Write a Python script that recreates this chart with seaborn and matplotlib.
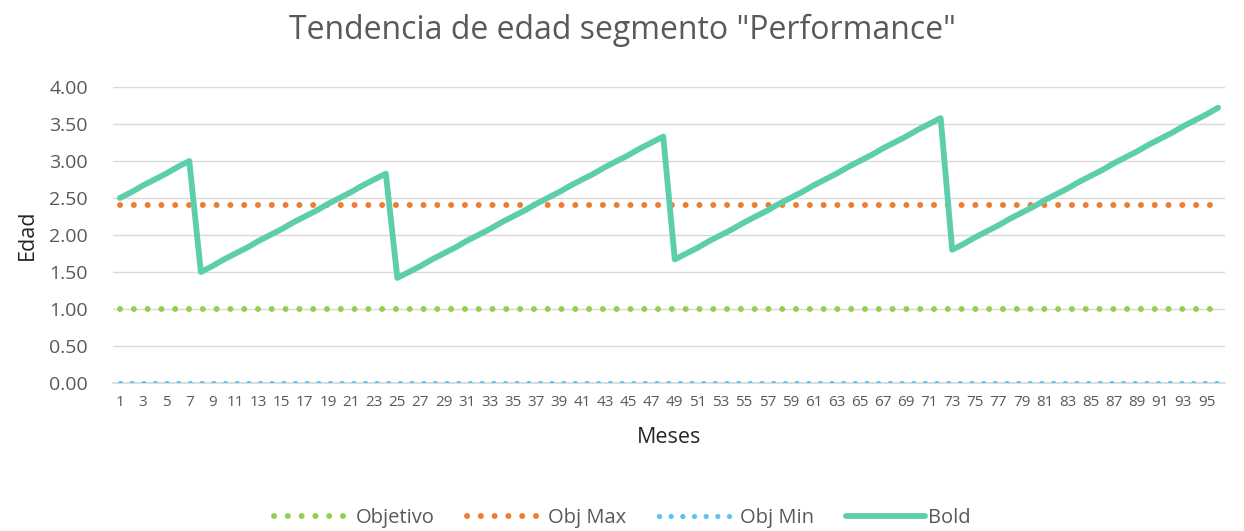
import matplotlib
matplotlib.use("Agg")
import matplotlib.pyplot as plt
import seaborn as sns
import pandas as pd
from matplotlib.lines import Line2D

# Monthly series
meses = list(range(1, 97))
bold = [
    2.50, 2.58, 2.67, 2.75, 2.83, 2.92, 3.00,
    1.50, 1.58, 1.67, 1.75, 1.83, 1.92, 2.00, 2.08, 2.17, 2.25, 2.33, 2.42,
    2.50, 2.58, 2.67, 2.75, 2.83,
    1.42, 1.50, 1.58, 1.67, 1.75, 1.83, 1.92, 2.00, 2.08, 2.17, 2.25, 2.33,
    2.42, 2.50, 2.58, 2.67, 2.75, 2.83, 2.92, 3.00, 3.08, 3.17, 3.25, 3.33,
    1.67, 1.75, 1.83, 1.92, 2.00, 2.08, 2.17, 2.25, 2.33, 2.42, 2.50, 2.58,
    2.67, 2.75, 2.83, 2.92, 3.00, 3.08, 3.17, 3.25, 3.33, 3.42, 3.50, 3.58,
    1.80, 1.88, 1.97, 2.05, 2.13, 2.22, 2.30, 2.38, 2.47, 2.55, 2.63, 2.72,
    2.80, 2.88, 2.97, 3.05, 3.13, 3.22, 3.30, 3.38, 3.47, 3.55, 3.63, 3.72,
]
objetivo = [1.0] * 96
obj_max = [2.4] * 96
obj_min = [0.0] * 96

series_names = ["Objetivo", "Obj Max", "Obj Min", "Bold"]
colors = {"Objetivo": "#92D050", "Obj Max": "#ED7D31",
          "Obj Min": "#5BC5F2", "Bold": "#5CCEAB"}

sns.set_theme(style="white")
plt.rcParams["font.family"] = ["Open Sans", "DejaVu Sans"]

df = pd.DataFrame({"Mes": meses, "Objetivo": objetivo, "Obj Max": obj_max,
                   "Obj Min": obj_min, "Bold": bold})

fig = plt.figure(figsize=(12.44, 5.31), dpi=100)
ax = fig.add_axes([113 / 1244, 1 - 383 / 531, (1225 - 113) / 1244, (383 - 87) / 531])

dot_styles = {
    "Objetivo": dict(lw=4.3, ls=(0, (0.01, 2.3))),
    "Obj Max": dict(lw=4.3, ls=(0, (0.01, 2.3))),
    "Obj Min": dict(lw=3.8, ls=(0, (0.01, 2.2))),
}
for name, st in dot_styles.items():
    sns.lineplot(data=df, x="Mes", y=name, ax=ax, color=colors[name],
                 linewidth=st["lw"], linestyle=st["ls"],
                 dash_capstyle="round", zorder=3)
sns.lineplot(data=df, x="Mes", y="Bold", ax=ax, color=colors["Bold"],
             linewidth=4.2, solid_capstyle="round", solid_joinstyle="round",
             zorder=4)

ax.set_xlim(0.4, 96.6)
ax.set_ylim(0, 4)
ax.set_yticks([0, 0.5, 1, 1.5, 2, 2.5, 3, 3.5, 4])
ax.set_yticklabels([f"{v:.2f}" for v in ax.get_yticks()])
ax.set_xticks(meses[::2])
ax.set_xticklabels([str(m) for m in meses[::2]])
ax.grid(axis="y", color="#D9D9D9", linewidth=1.0)
ax.set_axisbelow(True)
for s in ["top", "right", "left"]:
    ax.spines[s].set_visible(False)
ax.spines["bottom"].set_color("#D9D9D9")
ax.tick_params(axis="y", labelsize=14, colors="#595959", length=0, pad=18)
ax.tick_params(axis="x", labelsize=11, colors="#595959", length=0, pad=9)

ax.set_xlabel("Meses", fontsize=15.5, color="#262626", labelpad=12)
ax.set_ylabel("Edad", fontsize=15.5, color="#262626", labelpad=8)
fig.suptitle('Tendencia de edad segmento "Performance"', fontsize=23,
             color="#595959", y=0.975)

handles = [
    Line2D([], [], color=colors["Objetivo"], lw=4.3, ls=(0, (0.01, 2.3)), dash_capstyle="round"),
    Line2D([], [], color=colors["Obj Max"], lw=4.3, ls=(0, (0.01, 2.3)), dash_capstyle="round"),
    Line2D([], [], color=colors["Obj Min"], lw=3.8, ls=(0, (0.01, 2.2)), dash_capstyle="round"),
    Line2D([], [], color=colors["Bold"], lw=4.2, solid_capstyle="round"),
]
ax.legend(handles, series_names, loc="center", bbox_to_anchor=(0.458, -0.455),
          ncol=4, frameon=False, fontsize=14.5, handlelength=3.9,
          handletextpad=0.15, columnspacing=1.6, labelcolor="#595959")

fig.savefig("out.png", dpi=100)
